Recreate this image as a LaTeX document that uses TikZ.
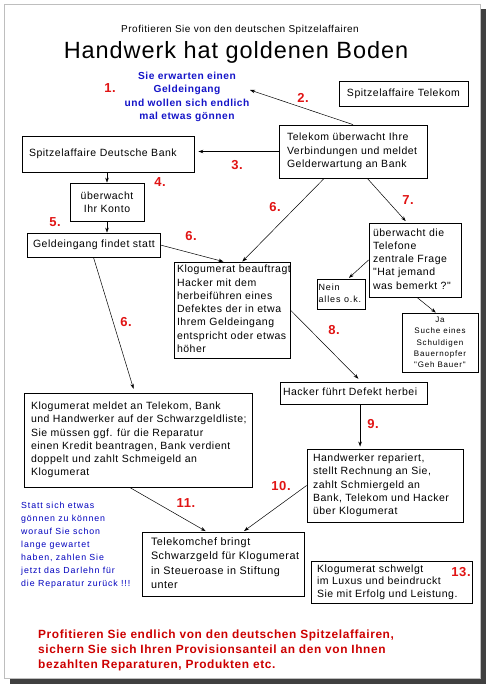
\documentclass[tikz,border=0pt]{standalone}
\usepackage{fontspec}
\setmainfont{Liberation Sans}
\newfontfamily\fA[LetterSpace=5]{Liberation Sans}
\newfontfamily\fB[LetterSpace=10]{Liberation Sans}
\newfontfamily\fT[LetterSpace=4]{Liberation Sans}
\usetikzlibrary{arrows.meta}
\definecolor{numred}{RGB}{225,20,20}
\definecolor{botred}{RGB}{205,0,0}
\definecolor{wishblue}{RGB}{20,20,200}
\definecolor{leftblue}{RGB}{0,0,190}
\definecolor{shadowgray}{RGB}{64,64,64}
\definecolor{pagegray}{RGB}{190,190,190}
\newcommand{\ltab}[2]{\makebox[#1][l]{\begin{tabular}{@{}l@{}}#2\end{tabular}}}
\begin{document}
\begin{tikzpicture}[x=1pt,y=-1pt,
  box/.style={draw, line width=0.8pt, inner ysep=0pt, font=\fA\fontsize{10.5}{13.3}\selectfont},
  arr/.style={-{Stealth[length=5pt,width=3.5pt]}, line width=0.5pt},
  num/.style={text=numred, font=\fA\bfseries\fontsize{13}{14}\selectfont, inner sep=0pt}]
\useasboundingbox (0,0) rectangle (490,688);
% page with shadow
\fill[shadowgray] (10,9) rectangle (486,684);
\filldraw[fill=white, draw=pagegray, line width=1pt] (4,4) rectangle (480,678);

% headings
\node[font=\fA\fontsize{10}{12}\selectfont, anchor=base] (sub) at (240,32) {Profitieren Sie von den deutschen Spitzelaffairen};
\node[font=\fT\fontsize{23.5}{26}\selectfont, anchor=base] (title) at (236,58) {Handwerk hat goldenen Boden};
\node[font=\fA\bfseries\fontsize{10.2}{13.3}\selectfont, text=wishblue, align=center] (wish) at (187,97) {Sie erwarten einen\\Geldeingang\\und wollen sich endlich\\mal etwas gönnen};
\coordinate (wishpt) at (250,90);

% boxes
\node[box, minimum width=129, minimum height=25] (tel0) at (403.5,93.5) {Spitzelaffaire Telekom};
\node[box, minimum width=148, minimum height=53, inner xsep=8] (tel) at (353,151.5) {\ltab{132pt}{Telekom überwacht Ihre\\Verbindungen und meldet\\Gelderwartung an Bank}};
\node[box, minimum width=172, minimum height=36, inner xsep=7] (bank) at (108,154) {\ltab{158pt}{Spitzelaffaire Deutsche Bank}};
\node[box, minimum width=74, minimum height=38, align=center] (konto) at (107,202) {überwacht\\Ihr Konto};
\node[box, minimum width=133, minimum height=24, inner xsep=6] (geld) at (93.5,245) {\ltab{121pt}{Geldeingang findet statt}};
\node[box, minimum width=116, minimum height=96, inner xsep=3] (klog) at (232,310) {\ltab{110pt}{Klogumerat beauftragt\\Hacker mit dem\\herbeiführen eines\\Defektes der in etwa\\Ihrem Geldeingang\\entspricht oder etwas\\höher}};
\node[box, minimum width=92, minimum height=74, inner xsep=4] (tele) at (415,260) {\ltab{84pt}{überwacht die\\Telefone\\zentrale Frage\\"Hat jemand\\was bemerkt ?"}};
\node[box, minimum width=48, minimum height=30, inner xsep=1.5, font=\fB\fontsize{9}{12.5}\selectfont] (nein) at (341,294) {\ltab{45pt}{Nein\\alles o.k.}};
\node[box, minimum width=76, minimum height=59, align=center, font=\fB\fontsize{8}{11.3}\selectfont] (ja) at (440,342.5) {Ja\\Suche eines\\Schuldigen\\Bauernopfer\\"Geh Bauer"};
\node[box, minimum width=147, minimum height=22, inner xsep=3] (hack) at (353.5,393) {\ltab{141pt}{Hacker führt Defekt herbei}};
\node[box, minimum width=156, minimum height=73, inner xsep=6] (hand) at (385,485.5) {\ltab{144pt}{Handwerker repariert,\\stellt Rechnung an Sie,\\zahlt Schmiergeld an\\Bank, Telekom und Hacker\\über Klogumerat}};
\node[box, minimum width=228, minimum height=94, inner xsep=7] (meld) at (138,440) {\ltab{214pt}{Klogumerat meldet an Telekom, Bank\\und Handwerker auf der Schwarzgeldliste;\\Sie müssen ggf. für die Reparatur\\einen Kredit beantragen, Bank verdient\\doppelt und zahlt Schmeigeld an\\Klogumerat}};
\node[box, minimum width=162, minimum height=64, inner xsep=9, font=\fA\fontsize{10.8}{14.4}\selectfont] (chef) at (223,564) {\ltab{144pt}{Telekomchef bringt\\Schwarzgeld für Klogumerat\\in Steueroase in Stiftung\\unter}};
\node[box, minimum width=161, minimum height=42, inner xsep=6, font=\fA\fontsize{10.5}{12.5}\selectfont] (schw) at (391.5,582) {\ltab{149pt}{Klogumerat schwelgt\\im Luxus und beindruckt\\Sie mit Erfolg und Leistung.}};

% free texts
\node[font=\fB\fontsize{8.8}{13}\selectfont, text=leftblue, align=left, anchor=west, inner sep=0pt] (statt) at (21,545) {Statt sich etwas\\gönnen zu können\\worauf Sie schon\\lange gewartet\\haben, zahlen Sie\\jetzt das Darlehn für\\die Reparatur zurück !!!};
\node[font=\fA\bfseries\fontsize{11.9}{15}\selectfont, text=botred, align=left, anchor=west, inner sep=0pt] (bottom) at (38,650) {Profitieren Sie endlich von den deutschen Spitzelaffairen,\\sichern Sie sich Ihren Provisionsanteil an den von Ihnen\\bezahlten Reparaturen, Produkten etc.};

% numbers
\node[num] (n1) at (110,88) {1.};
\node[num] (n2) at (303,98) {2.};
\node[num] (n3) at (237,165) {3.};
\node[num] (n4) at (160,182) {4.};
\node[num] (n5) at (55,222) {5.};
\node[num] (n6a) at (191,236) {6.};
\node[num] (n6b) at (275,207) {6.};
\node[num] (n6c) at (126,322) {6.};
\node[num] (n7) at (408,200) {7.};
\node[num] (n8) at (334,330) {8.};
\node[num] (n9) at (373,424) {9.};
\node[num] (n10) at (281,486) {10.};
\node[num] (n11) at (186,503) {11.};
\node[num] (n13) at (461,572) {13.};

% connectors
\draw[arr] (tel.north) -- (wishpt);
\draw[arr, shorten >=4pt] (tel.west) -- (tel.west -| bank.east);
\draw[arr] (bank.south -| konto.north) -- (konto.north);
\draw[arr] (konto.south) -- (konto.south |- geld.north);
\draw[arr] (geld.east) -- (klog.100);
\draw[arr] (tel.223) -- (klog.78);
\draw[arr, shorten >=2pt] (tel.298) -- (tele.102);
\draw[arr, shorten >=1pt] (tele.west) -- (nein.65);
\draw[arr] (tele.273) -- (ja.98);
\draw[arr, shorten >=4pt] (klog.east) -- (hack.56);
\draw[arr, shorten >=2pt] (hack.300) -- (hack.300 |- hand.north);
\draw[arr, shorten >=4pt] (geld.south) -- (meld.94);
\draw[arr, shorten >=1pt] (meld.260) -- (chef.117);
\draw[arr, shorten >=1pt] (hand.west) -- (chef.58);
\end{tikzpicture}
\end{document}
